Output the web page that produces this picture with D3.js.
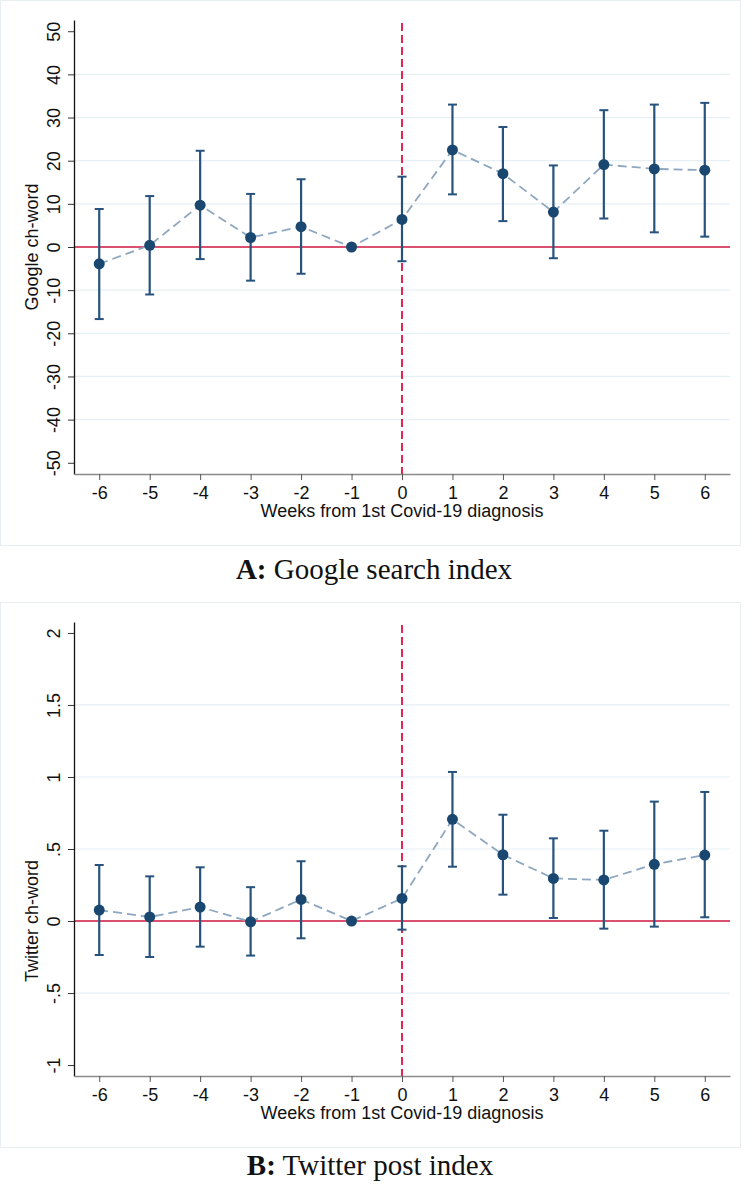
<!DOCTYPE html>
<html>
<head>
<meta charset="utf-8">
<script src="https://cdn.jsdelivr.net/npm/d3@7"></script>
<style>
  body { margin: 0; background: #fff; }
  svg { display: block; }
</style>
</head>
<body>
<script>
// weeks relative to the first diagnosis
const weeks = [-6, -5, -4, -3, -2, -1, 0, 1, 2, 3, 4, 5, 6];

// panel A : Google search index
const googleCoef = [-3.9, 0.4, 9.7, 2.2, 4.7, 0, 6.4, 22.5, 17.0, 8.1, 19.1, 18.1, 17.8];
const googleLo   = [-16.7, -11.0, -2.8, -7.8, -6.2, 0, -3.3, 12.2, 6.0, -2.6, 6.6, 3.4, 2.4];
const googleHi   = [8.8, 11.8, 22.3, 12.3, 15.7, 0, 16.3, 33.0, 27.8, 18.9, 31.7, 33.0, 33.4];
const googleTicks = [-50, -40, -30, -20, -10, 0, 10, 20, 30, 40, 50];

// panel B : Twitter post index
const twitterCoef = [0.076, 0.028, 0.097, -0.005, 0.15, 0, 0.157, 0.706, 0.46, 0.296, 0.285, 0.394, 0.458];
const twitterLo   = [-0.236, -0.25, -0.178, -0.24, -0.12, 0, -0.06, 0.377, 0.183, 0.021, -0.053, -0.039, 0.026];
const twitterHi   = [0.389, 0.31, 0.373, 0.235, 0.415, 0, 0.38, 1.035, 0.738, 0.574, 0.627, 0.829, 0.896];
const twitterTicks = [-1, -0.5, 0, 0.5, 1, 1.5, 2];

const W = 750, H = 1188;
const svg = d3.select("body").append("svg")
    .attr("width", W)
    .attr("height", H);

const navy = "#1a476f";
const barCol = "#26527d";
const lineCol = "#8ea7c0";
const red = "#d0163f";
const sans = "'Liberation Sans', Arial, sans-serif";
const serif = "'Liberation Serif', 'Times New Roman', serif";
const fs = "18px";

// stata style labels: .5 instead of 0.5
function stataFmt(d) {
    let s = String(d);
    return s.replace(/^0\./, ".").replace(/^-0\./, "-.");
}

function drawPanel(p) {
    const g = svg.append("g");

    // light frame around the graph region
    g.append("rect")
        .attr("x", 0.5).attr("y", p.frameTop + 0.5)
        .attr("width", 740).attr("height", p.frameBottom - p.frameTop)
        .attr("fill", "none")
        .attr("stroke", "#e9eef1");

    const x = d3.scaleLinear().domain([-6.5, 6.5]).range([74, 730]);
    const y = d3.scaleLinear().domain(p.yDomain).range([p.bottom, p.top]);

    // grid lines (not at the ends and not at 0)
    const inner = p.ticks.slice(1, -1).filter(d => d !== 0);
    g.selectAll(".grid")
        .data(inner)
        .enter()
        .append("line")
        .attr("x1", 74).attr("x2", 730)
        .attr("y1", d => y(d)).attr("y2", d => y(d))
        .attr("stroke", "#e6eff3")
        .attr("stroke-width", 1.2);

    // zero line
    g.append("line")
        .attr("x1", 74).attr("x2", 730)
        .attr("y1", y(0)).attr("y2", y(0))
        .attr("stroke", red)
        .attr("stroke-width", 1.6);

    // vertical dashed line at week 0
    g.append("line")
        .attr("x1", x(0)).attr("x2", x(0))
        .attr("y1", p.top + 3).attr("y2", p.bottom)
        .attr("stroke", "#e0103c")
        .attr("stroke-width", 1.8)
        .attr("stroke-dasharray", "8,4");

    // axes
    const yAxis = g.append("g")
        .attr("transform", "translate(74,0)")
        .call(d3.axisLeft(y).tickValues(p.ticks).tickFormat(stataFmt).tickSizeInner(6).tickSizeOuter(0));
    yAxis.select(".domain").attr("stroke", "#111").attr("stroke-width", 1.3);
    yAxis.selectAll(".tick line").attr("stroke", "#333");
    yAxis.selectAll(".tick text")
        .attr("transform", "rotate(-90)")
        .attr("x", 0).attr("y", -14).attr("dy", 0)
        .attr("text-anchor", "middle")
        .attr("fill", "#111")
        .style("font-family", sans)
        .style("font-size", fs);

    const xAxis = g.append("g")
        .attr("transform", `translate(0,${p.bottom})`)
        .call(d3.axisBottom(x).tickValues(weeks).tickFormat(d => String(d))
            .tickSizeInner(6).tickSizeOuter(0).tickPadding(6));
    xAxis.select(".domain").attr("stroke", "#8a8a8a").attr("stroke-width", 1.3);
    xAxis.selectAll(".tick line").attr("stroke", "#555");
    xAxis.selectAll(".tick text")
        .attr("fill", "#111")
        .style("font-family", sans)
        .style("font-size", fs);

    // axis titles
    g.append("text")
        .attr("x", 402).attr("y", p.bottom + 43)
        .attr("text-anchor", "middle")
        .style("font-family", sans)
        .style("font-size", fs)
        .attr("fill", "#111")
        .text("Weeks from 1st Covid-19 diagnosis");

    g.append("text")
        .attr("transform", `translate(38,${y(0)}) rotate(-90)`)
        .attr("text-anchor", "middle")
        .style("font-family", sans)
        .style("font-size", fs)
        .attr("fill", "#111")
        .text(p.yTitle);

    const rows = weeks.map((w, i) => ({ w: w, c: p.coef[i], lo: p.lo[i], hi: p.hi[i] }));
    const bars = rows.filter(d => d.lo !== d.hi);

    // confidence intervals with caps
    const ci = g.selectAll(".ci").data(bars).enter().append("g");
    ci.append("line")
        .attr("x1", d => x(d.w)).attr("x2", d => x(d.w))
        .attr("y1", d => y(d.lo)).attr("y2", d => y(d.hi))
        .attr("stroke", barCol).attr("stroke-width", 2.2);
    ci.append("line")
        .attr("x1", d => x(d.w) - 4.5).attr("x2", d => x(d.w) + 4.5)
        .attr("y1", d => y(d.hi)).attr("y2", d => y(d.hi))
        .attr("stroke", barCol).attr("stroke-width", 2);
    ci.append("line")
        .attr("x1", d => x(d.w) - 4.5).attr("x2", d => x(d.w) + 4.5)
        .attr("y1", d => y(d.lo)).attr("y2", d => y(d.lo))
        .attr("stroke", barCol).attr("stroke-width", 2);

    // dashed connecting line
    const line = d3.line().x(d => x(d.w)).y(d => y(d.c));
    g.append("path")
        .datum(rows)
        .attr("d", line)
        .attr("fill", "none")
        .attr("stroke", lineCol)
        .attr("stroke-width", 1.8)
        .attr("stroke-dasharray", "9,5");

    // points
    g.selectAll(".pt").data(rows).enter().append("circle")
        .attr("cx", d => x(d.w))
        .attr("cy", d => y(d.c))
        .attr("r", 5.5)
        .attr("fill", navy);

    // caption under the panel
    const cap = svg.append("text")
        .attr("x", p.capX).attr("y", p.capY)
        .attr("text-anchor", "middle")
        .style("font-family", serif)
        .style("font-size", "29px")
        .attr("fill", "#111");
    cap.append("tspan").style("font-weight", "bold").text(p.capBold);
    cap.append("tspan").text(" " + p.capText);
}

drawPanel({
    frameTop: 0, frameBottom: 545,
    top: 20, bottom: 474,
    yDomain: [-52.6, 52.6],
    ticks: googleTicks,
    coef: googleCoef, lo: googleLo, hi: googleHi,
    yTitle: "Google ch-word",
    capBold: "A:", capText: "Google search index",
    capX: 374, capY: 579
});

drawPanel({
    frameTop: 602, frameBottom: 1147,
    top: 622, bottom: 1076,
    yDomain: [-1.076, 2.076],
    ticks: twitterTicks,
    coef: twitterCoef, lo: twitterLo, hi: twitterHi,
    yTitle: "Twitter ch-word",
    capBold: "B:", capText: "Twitter post index",
    capX: 370, capY: 1175
});
</script>
</body>
</html>
